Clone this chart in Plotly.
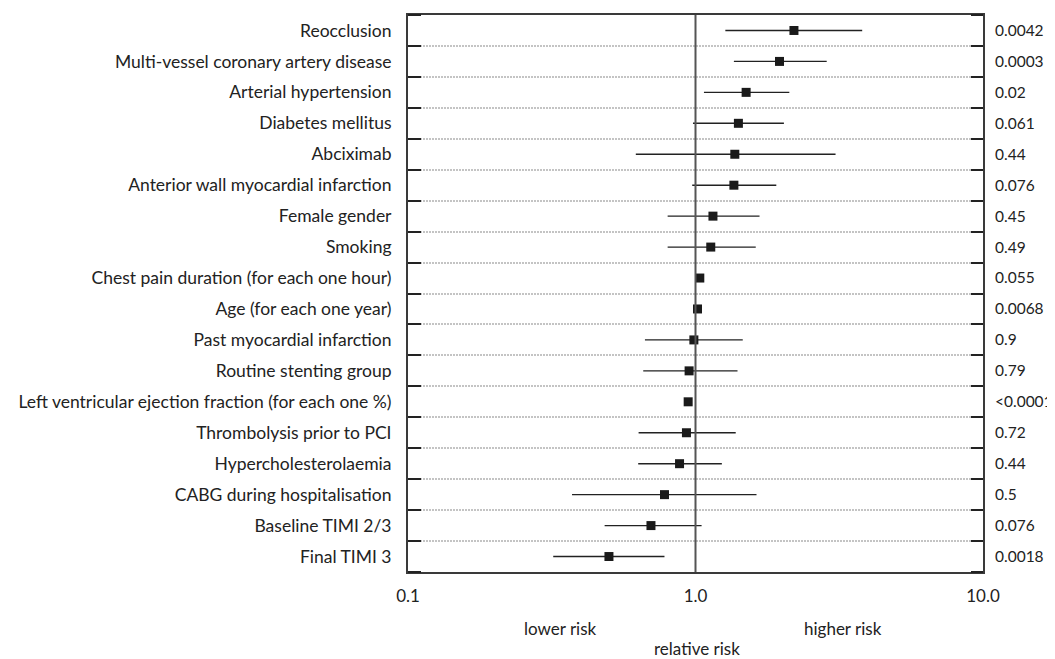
import plotly.graph_objects as go

labels = [
    "Reocclusion",
    "Multi-vessel coronary artery disease",
    "Arterial hypertension",
    "Diabetes mellitus",
    "Abciximab",
    "Anterior wall myocardial infarction",
    "Female gender",
    "Smoking",
    "Chest pain duration (for each one hour)",
    "Age (for each one year)",
    "Past myocardial infarction",
    "Routine stenting group",
    "Left ventricular ejection fraction (for each one %)",
    "Thrombolysis prior to PCI",
    "Hypercholesterolaemia",
    "CABG during hospitalisation",
    "Baseline TIMI 2/3",
    "Final TIMI 3",
]
rr = [2.20, 1.96, 1.50, 1.41, 1.37, 1.36, 1.15, 1.13, 1.035, 1.016,
      0.987, 0.95, 0.943, 0.93, 0.88, 0.78, 0.70, 0.50]
ci_low = [1.27, 1.36, 1.07, 0.98, 0.62, 0.974, 0.80, 0.80, 1.01, 1.00,
          0.667, 0.658, 0.93, 0.634, 0.632, 0.372, 0.483, 0.32]
ci_high = [3.80, 2.86, 2.12, 2.03, 3.07, 1.91, 1.67, 1.62, 1.06, 1.03,
           1.46, 1.40, 0.955, 1.38, 1.235, 1.63, 1.05, 0.78]
p_values = ["0.0042", "0.0003", "0.02", "0.061", "0.44", "0.076", "0.45", "0.49",
            "0.055", "0.0068", "0.9", "0.79", "<0.0001", "0.72", "0.44", "0.5",
            "0.076", "0.0018"]
x_ticks = [0.1, 1.0, 10.0]
x_tick_text = ["0.1", "1.0", "10.0"]

rows = list(range(len(labels)))
FONT = "Lato"
TXT = "#222222"

# page body has an 8px margin; the figure is sized to fill the rest of the window
OFF = 8
W, H = 1055 - OFF, 659 - OFF
L, R, T, B = 408 - OFF, 1055 - 983, 15 - OFF, 659 - 572

fig = go.Figure()
fig.add_trace(go.Scatter(
    x=rr, y=rows, mode="markers",
    marker=dict(symbol="square", size=9, color="#1a1a1a"),
    error_x=dict(type="data", symmetric=False,
                 array=[h - v for h, v in zip(ci_high, rr)],
                 arrayminus=[v - l for l, v in zip(ci_low, rr)],
                 width=0, thickness=1.4, color="#222222"),
    showlegend=False, hoverinfo="skip",
))
# invisible trace on right axis carrying the p-value labels
fig.add_trace(go.Scatter(x=rr, y=rows, yaxis="y2", mode="markers",
                         marker=dict(opacity=0), showlegend=False, hoverinfo="skip"))

fig.add_shape(type="line", xref="x", yref="paper", x0=1, x1=1, y0=0, y1=1,
              line=dict(color="#555555", width=2))

minor_left = dict(tick0=0.5, dtick=1, ticks="inside", ticklen=13, tickcolor="#222222",
                  tickwidth=2, showgrid=True, gridcolor="#c4c4c4",
                  griddash="2px,1px", gridwidth=1.5)
minor_right = dict(tick0=0.5, dtick=1, ticks="inside", ticklen=12,
                   tickcolor="#222222", tickwidth=2, showgrid=False)

fig.update_layout(
    width=W, height=H,
    margin=dict(l=L, r=R, t=T, b=B, autoexpand=False),
    paper_bgcolor="white", plot_bgcolor="white",
    font=dict(family=FONT, size=17, color=TXT),
    xaxis=dict(type="log", range=[-1, 1], tickvals=x_ticks, ticktext=x_tick_text,
               showgrid=False, zeroline=False, ticks="", showline=True, mirror=True,
               linecolor="#3a3a3a", linewidth=2, ticklabelstandoff=8, automargin=False),
    yaxis=dict(range=[17.5, -0.5], tickvals=rows, ticktext=labels, showgrid=False,
               zeroline=False, ticks="", showline=True, mirror=True,
               linecolor="#3a3a3a", linewidth=2, ticklabelstandoff=11,
               tickfont=dict(size=17.5), minor=minor_left, automargin=False),
    yaxis2=dict(range=[17.5, -0.5], overlaying="y", side="right", tickvals=rows,
                ticktext=p_values, showgrid=False, zeroline=False, ticks="",
                showline=False, ticklabelstandoff=11, tickfont=dict(size=15.5),
                minor=minor_right, automargin=False),
)

pw = W - L - R
ph = H - T - B


def px_to_paper(xp, yp):
    # page pixel coordinates -> paper coordinates
    return (xp - OFF - L) / pw, (H - (yp - OFF) - B) / ph


for text, xp, yp in [("lower risk", 560, 628), ("higher risk", 843, 628),
                     ("relative risk", 697, 648)]:
    ax, ay = px_to_paper(xp, yp)
    fig.add_annotation(text=text, x=ax, y=ay, xref="paper", yref="paper",
                       showarrow=False, xanchor="center", yanchor="middle")

fig.write_html("out.html")
